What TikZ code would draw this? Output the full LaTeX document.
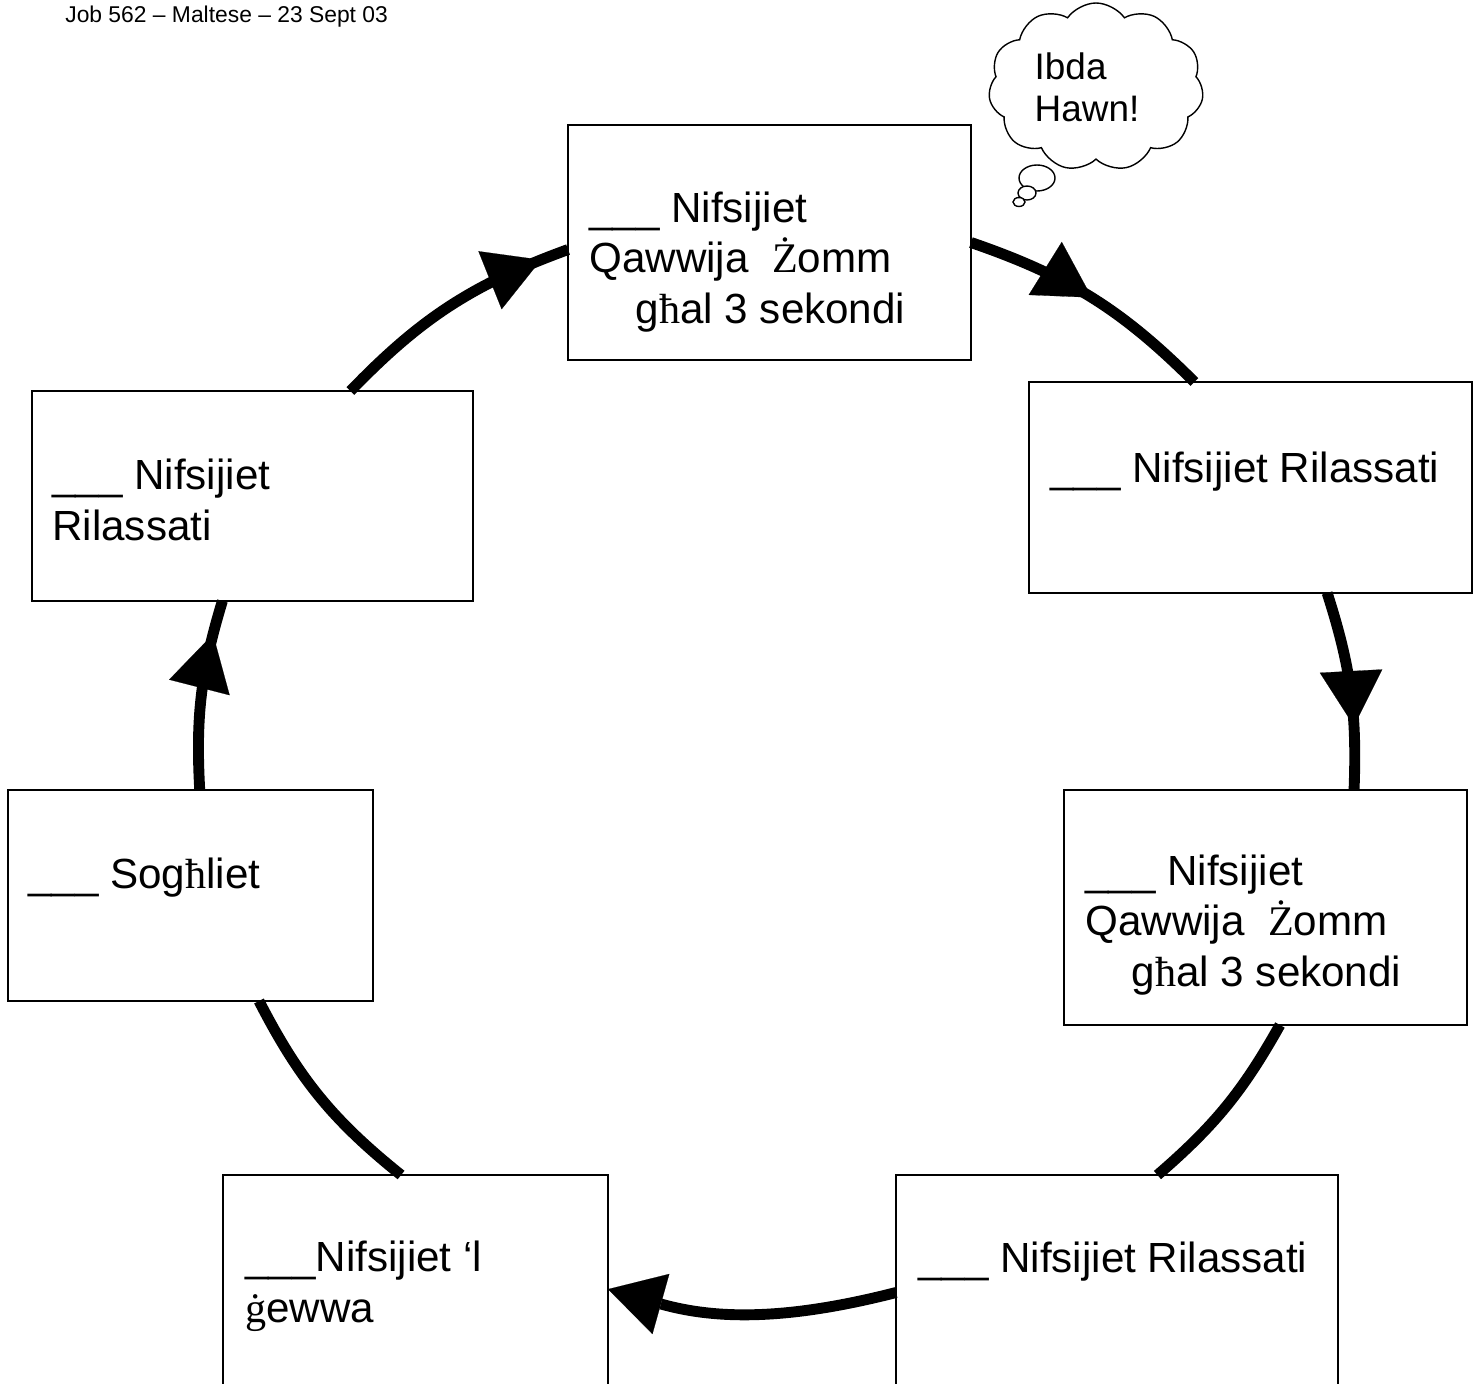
\documentclass[tikz,border=0pt]{standalone}
\usepackage{fontspec}
\setmainfont{Liberation Sans}
\newfontfamily\mtserif{Liberation Serif}
\usetikzlibrary{arrows.meta,decorations.markings,shapes.symbols}

% Maltese letters
\newcommand{\mtZ}{{\mtserif Ż}}
\newcommand{\mtg}{{\mtserif ġ}}
\newcommand{\mth}{{\mtserif ħ}}

\tikzset{
  box/.style={draw,line width=1.1pt,inner sep=0pt,outer sep=0pt},
  lbl/.style={anchor=base west,align=left,inner sep=0pt,
    font=\fontsize{24}{28.5}\selectfont},
  flow/.style={line width=6.2pt},
  bigtip/.tip={Triangle[length=1.1cm,width=1.25cm,line width=0.1pt]},
  flowmark/.style={postaction={decorate},decoration={markings,
    mark=at position #1 with {\arrow{bigtip}}}}
}

\begin{document}
\begin{tikzpicture}[x=0.02cm,y=-0.02cm]
\useasboundingbox (0,0) rectangle (1480,1383);
\clip (0,0) rectangle (1480,1383);

% Header
\node[anchor=base west,inner sep=0pt,font=\fontsize{13}{15}\selectfont]
  (job) at (65,22) {Job 562 – Maltese – 23 Sept 03};

% Boxes
\node[box,minimum width=8.06cm,minimum height=4.7cm] (top) at (769.5,242.5) {};
\node[box,minimum width=8.86cm,minimum height=4.22cm] (ru) at (1250.5,487.5) {};
\node[box,minimum width=8.82cm,minimum height=4.2cm] (lu) at (252.5,496) {};
\node[box,minimum width=8.06cm,minimum height=4.7cm] (rl) at (1265.5,907.5) {};
\node[box,minimum width=7.3cm,minimum height=4.22cm] (ll) at (190.5,895.5) {};
\node[box,minimum width=7.7cm,minimum height=4.7cm] (bl) at (415.5,1292.5) {};
\node[box,minimum width=8.84cm,minimum height=4.7cm] (br) at (1117,1292.5) {};

% Labels (base = last line)
\node[lbl] (topT) at (589,323)
  {\_\_\_ Nifsijiet\\Qawwija\ \ \mtZ omm\\\hspace*{1.1em}g\mth al 3 sekondi};
\node[lbl] (ruT) at (1050,482) {\_\_\_ Nifsijiet Rilassati};
\node[lbl] (luT) at (52,540) {\_\_\_ Nifsijiet\\Rilassati};
\node[lbl] (rlT) at (1085,986)
  {\_\_\_ Nifsijiet\\Qawwija\ \ \mtZ omm\\\hspace*{1.1em}g\mth al 3 sekondi};
\node[lbl] (llT) at (28,888) {\_\_\_ Sog\mth liet};
\node[lbl] (blT) at (245,1322) {\_\_\_Nifsijiet ‘l\\\mtg ewwa};
\node[lbl] (brT) at (918,1272) {\_\_\_ Nifsijiet Rilassati};

% Cloud
\node[cloud,draw,line width=0.8pt,cloud puffs=11,cloud puff arc=110,aspect=1.3,
  minimum width=4.3cm,minimum height=3.3cm,align=left,
  font=\fontsize{21}{24}\selectfont] (start) at (1096,87) {Ibda\\Hawn!\hspace*{0.36cm}};
\draw[line width=0.8pt,fill=white] (1037,178) ellipse [x radius=18,y radius=13];
\draw[line width=0.8pt,fill=white] (1027,193) ellipse [x radius=9,y radius=7];
\draw[line width=0.8pt,fill=white] (1019,202) ellipse [x radius=6,y radius=4.5];

% Arrows
\draw[flow,flowmark=0.89] (lu.47) to[bend left=13] (top.182);
\draw[flow,flowmark=0.5] (top.0) to[bend left=13] (ru.118);
\draw[flow,flowmark=0.68] (ru.-54) to[bend left=10] (rl.53);
\draw[flow] (rl.-83) to[bend left=10] (br.71);
\draw[flow,-bigtip] (br.180) to[bend left=15] (bl.1);
\draw[flow] (bl.97) to[bend left=12] (ll.-57);
\draw[flow,flowmark=0.82] (ll.85) to[bend left=10] (lu.-106);

\end{tikzpicture}
\end{document}
